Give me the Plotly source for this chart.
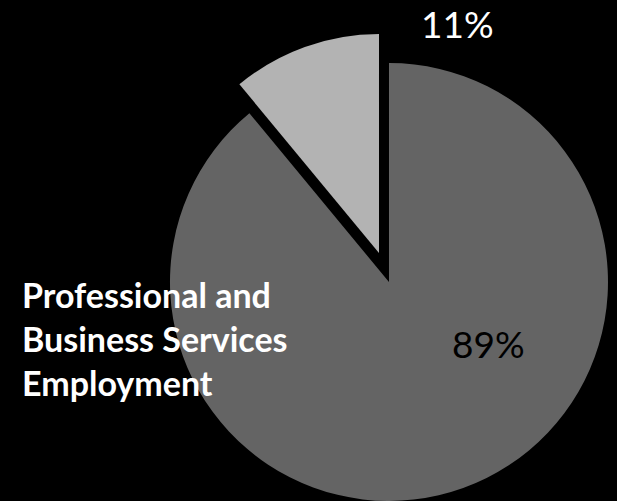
import plotly.graph_objects as go

# slice data
labels = ["Professional and Business Services Employment", "Other"]
values = [89, 11]
slice_colors = ["#646464", "#b3b3b3"]

fig = go.Figure()

# main pie (the 89% slice, small slice hidden)
fig.add_trace(go.Pie(
    labels=labels, values=values, sort=False, direction="clockwise", rotation=0,
    marker=dict(colors=[slice_colors[0], "rgba(0,0,0,0)"], line=dict(width=0)),
    textinfo="none", hoverinfo="label+percent", showlegend=False,
    domain=dict(x=[0.2755, 0.9854], y=[0.0, 0.8743]),
))
# pulled out 11% slice
fig.add_trace(go.Pie(
    labels=labels, values=values, sort=False, direction="clockwise", rotation=0,
    marker=dict(colors=["rgba(0,0,0,0)", slice_colors[1]], line=dict(width=0)),
    textinfo="none", hoverinfo="label+percent", showlegend=False,
    domain=dict(x=[0.2593, 0.9692], y=[0.0579, 0.9321]),
))

fig.add_annotation(text="%d%%" % values[1], x=0.7415, y=0.954, xref="paper", yref="paper",
                   xanchor="center", yanchor="middle", showarrow=False,
                   font=dict(family="Lato", size=37, color="white"))
fig.add_annotation(text="%d%%" % values[0], x=0.791, y=0.3134, xref="paper", yref="paper",
                   xanchor="center", yanchor="middle", showarrow=False,
                   font=dict(family="Lato", size=37, color="black"))
fig.add_annotation(text="<b>Professional and<br>Business Services<br>Employment</b>",
                   x=20 / 617, y=0.3234, xref="paper", yref="paper", xanchor="left",
                   yanchor="middle", align="left", showarrow=False,
                   font=dict(family="Lato", size=34, color="white"))

fig.update_layout(
    width=617, height=501,
    margin=dict(l=0, r=0, t=0, b=0),
    paper_bgcolor="black", plot_bgcolor="black",
)
# drop the page margin so the figure fills the window
fig.write_html("out.html", config={"displayModeBar": False},
               post_script="document.body.style.margin='0';")
